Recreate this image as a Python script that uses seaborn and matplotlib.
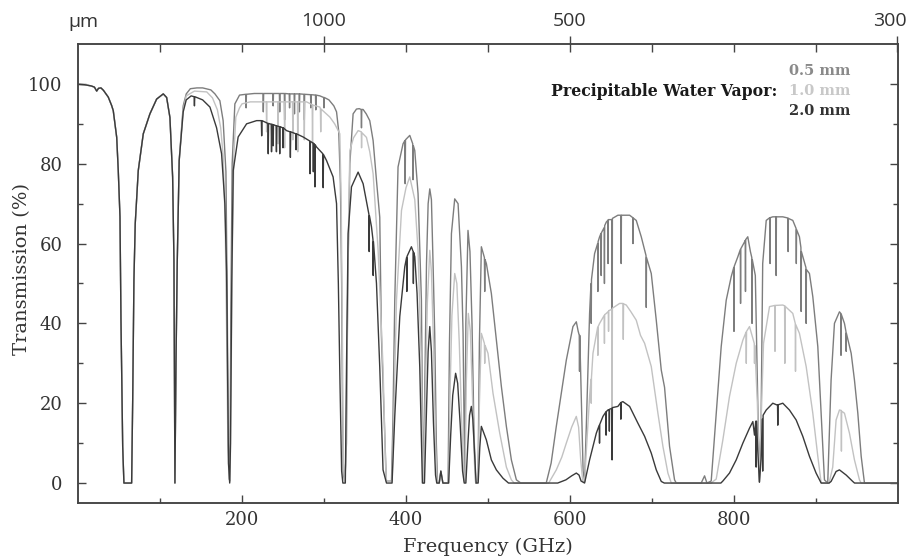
import matplotlib
matplotlib.use("Agg")
import matplotlib.pyplot as plt
from matplotlib.ticker import FixedLocator, FixedFormatter
from matplotlib.transforms import ScaledTranslation
import seaborn as sns
import pandas as pd

# --- data (frequency GHz, transmission %) ---

# below ~125 GHz the three curves lie on top of each other
shared_low = [
    (1, 99.9), (8, 99.8), (16, 99.5), (20, 99.2), (22.8, 98.2), (25, 98.9), (28, 99.0),
    (31, 98.4), (36.9, 96.7), (41, 94.6), (43, 93.3), (47.2, 86.6), (49.1, 78.3),
    (51.2, 66.7), (52.4, 40.8), (54.5, 9.2), (56, 0), (65.4, 0), (66.7, 20.8),
    (68.2, 50.8), (69.8, 65), (73.5, 78.3), (79.6, 87.5), (87.7, 92.5), (95.9, 96.2),
    (104, 97.5), (108.1, 96.6), (112.1, 91.6), (115.4, 76.7), (117, 55.8), (118.2, 0),
    (119.5, 30), (121, 55), (123.4, 80.8),
]

pwv_05 = [
    (128.3, 94.5), (132, 97.5), (137, 98.8), (145, 99.0), (152, 99.0), (162, 98.5),
    (167, 97.5), (173, 95.8), (177, 90.8), (180.4, 78), (182, 45), (183.3, 10),
    (184.5, 1), (185.5, 10), (186.5, 45), (188, 80), (191.3, 95), (197, 97.2),
    (204.6, 97.4), (205, 94.0), (205.4, 97.4), (215, 97.6), (225.6, 97.6), (226, 93.0),
    (226.4, 97.6), (237.6, 97.6), (238, 94.5), (238.4, 97.6), (245.6, 97.6), (246, 93.0),
    (246.4, 97.6), (251.6, 97.6), (252, 91.0), (252.4, 97.6), (257.6, 97.5), (258, 94.0),
    (258.4, 97.5), (263.6, 97.5), (264, 92.5), (264.4, 97.5), (269.6, 97.5), (270, 93.0),
    (270.4, 97.5), (275.6, 97.4), (276, 91.0), (276.4, 97.4), (283.6, 97.3), (284, 94.0),
    (284.4, 97.3), (289.6, 97.2), (290, 93.5), (290.4, 97.2), (295, 97.0), (299.6, 96.6),
    (300, 94.0), (300.4, 96.6), (306, 96.0), (312, 94.5), (315.3, 93.0), (318, 88),
    (320, 75), (321.5, 50), (322.5, 20), (323.5, 2), (325.5, 0.5), (327.4, 10), (329, 50),
    (331.5, 80), (335.5, 92.5), (339.6, 93.7), (343, 93.8), (345.3, 93.6), (345.7, 89),
    (346.1, 93.6), (347.7, 93.6), (351.5, 92.5), (355.8, 90.8), (359.9, 85.8), (364, 75.8),
    (368, 66.6), (370, 37), (374.1, 12.5), (376, 0.5), (382.3, 0.5), (384, 15),
    (386.3, 45.8), (390.3, 79.2), (396.4, 85), (398.6, 85.8), (399, 75), (399.4, 86),
    (404.6, 87.1), (408.2, 85), (408.6, 76), (409, 84.5), (410.7, 83.3), (414.7, 72.5),
    (418.8, 45.8), (420.8, 0.5), (421.5, 0), (423, 25), (425, 55), (427, 70), (429, 73.7),
    (431, 71), (433, 55), (435, 37.5), (437, 10), (438.5, 0), (440.5, 0), (442.5, 3),
    (445, 0), (451.3, 0), (453, 35), (455.4, 62.5), (459.4, 71.2), (463.5, 70),
    (467.6, 54.2), (469.6, 37.5), (471.6, 0.5), (473, 40), (475.6, 63.3), (478, 58),
    (480.5, 40), (483, 12), (485, 0), (487.8, 0.5), (489.5, 35), (491.9, 59.2),
    (495.6, 56.5), (496, 48), (496.4, 56), (498, 55), (504.1, 47.5), (510.2, 35.8),
    (516.3, 24.2), (522.4, 14.2), (528.5, 5.8), (534.6, 0.8), (540, 0), (571, 0),
    (577, 5), (583.3, 14.2), (589, 22), (595.5, 30.8), (603.6, 39.2), (607.7, 40.4),
    (610, 38), (611.3, 37), (611.6, 28), (611.9, 37), (614, 20), (616, 3), (617.8, 0.5),
    (620, 15), (623.9, 42.5), (625.6, 50), (625.9, 40), (626.2, 51), (630, 57.5),
    (633.7, 60), (634, 48), (634.3, 60.5), (636.1, 61.7), (637.7, 62.5), (638, 52),
    (638.3, 62.7), (641.7, 64), (642, 50), (642.3, 64.5), (644.3, 65.4), (646.1, 65.8),
    (646.4, 55), (646.7, 66), (650.9, 66), (651.3, 8), (651.7, 66.3), (658.4, 67.1),
    (662.1, 67.1), (662.4, 55), (662.7, 67.1), (672.7, 67.1), (676.5, 66.5), (676.8, 60),
    (677.1, 66.4), (680.8, 65.8), (686.9, 61.7), (691, 58.3), (692.7, 57), (693, 44),
    (693.3, 56.5), (699.1, 52.5), (705.2, 40.8), (711.3, 28.3), (715.3, 24), (721.4, 9.2),
    (727.5, 0.8), (729.6, 0), (760, 0), (764.1, 1.8), (767, 0), (772.2, 0.5),
    (778.3, 17.5), (784.4, 34.2), (790.5, 45.8), (796.6, 51.7), (799.7, 54), (800, 38),
    (800.3, 54.3), (804.7, 56.7), (807.7, 58.5), (808, 45), (808.3, 58.7), (812.8, 60.4),
    (813.7, 60.8), (814, 48), (814.3, 61), (816.8, 61.7), (820, 58), (821.7, 56.5),
    (822, 40), (822.3, 56), (826, 52), (829, 20), (831, 0.3), (833, 15), (835, 55),
    (839.3, 65.8), (843.7, 66.5), (844, 55), (844.3, 66.5), (847.3, 66.7), (851.1, 66.7),
    (851.4, 52), (851.7, 66.7), (859.5, 66.7), (865.7, 66.4), (866, 58), (866.3, 66.3),
    (871.7, 65.8), (875.7, 63.8), (876, 55), (876.3, 63.5), (879.8, 61.7), (881.6, 59),
    (881.9, 43), (882.2, 58), (887.7, 54), (888, 40), (888.3, 53.5), (892, 52.5),
    (896.1, 46.7), (902.2, 34.2), (906.3, 17.5), (910.3, 0.8), (914.3, 0), (918.4, 25.8),
    (922.5, 40), (928.6, 42.9), (930.2, 42.5), (930.5, 32), (930.8, 42.3), (934.7, 40),
    (936.5, 38), (936.8, 33), (937.1, 37.5), (942.9, 32.5), (946.9, 25.8), (951, 17.5),
    (955.1, 6.7), (959.1, 0), (999.5, 0),
]

pwv_10 = [
    (128.3, 93.5), (132, 97), (142, 98.2), (157, 98), (164, 96.5), (170, 93.5), (174, 89),
    (177, 82), (179.5, 65), (181, 42), (182.5, 15), (184, 1), (185.5, 0.5), (186.5, 20),
    (188, 55), (190, 82), (192.5, 91.7), (197, 94), (200, 95), (210, 95.5),
    (229.6, 95.5), (230, 88), (230.4, 95.5), (243.6, 95.5), (244, 85), (244.4, 95.5),
    (251.6, 95.5), (252, 84), (252.4, 95.5), (261.6, 95.5), (262, 86), (262.4, 95.5),
    (267.6, 95.5), (268, 83), (268.4, 95.5), (275.6, 95.5), (276, 86), (276.4, 95.5),
    (278.7, 95.5), (285.6, 94.8), (286, 85), (286.4, 94.7), (294.9, 94.2), (295.6, 93.8),
    (296, 88), (296.4, 93.7), (307.1, 91.7), (313, 90), (319.3, 87.5), (321, 70),
    (322.5, 35), (323.5, 5), (325, 0.5), (326.5, 5), (328, 30), (330, 65), (331.5, 83.3),
    (336, 86.5), (341.6, 88.3), (345.5, 88), (345.8, 84), (346.1, 87.8), (351.8, 86.6),
    (355.8, 83), (359.9, 77.5), (366, 58.3), (372, 29), (375, 5), (376.2, 0.5),
    (383, 0.5), (385, 15), (388.4, 45.8), (394.5, 68.3), (400, 74), (404.6, 76.7),
    (410.7, 71), (414.7, 58.3), (418.8, 29), (420.8, 0.5), (421.5, 0), (423.5, 20),
    (426, 45), (429, 58.3), (431, 53), (433.5, 35), (436, 10), (438, 0), (440.5, 0),
    (442.5, 2.5), (445, 0), (452, 0), (454, 25), (456, 42), (459.4, 52.5), (462, 50),
    (465, 35), (468, 15), (470.5, 0.5), (472, 0.5), (473.5, 25), (476, 42.5),
    (478.5, 38), (481, 22), (483.5, 5), (485, 0), (488, 0.5), (489.5, 20), (491.9, 37.5),
    (495.6, 35), (496, 30), (496.4, 34.5), (500, 32.5), (506.1, 22.5), (514.3, 12.5),
    (522.4, 4), (528.5, 0.8), (532, 0), (574, 0), (583.3, 3.3), (590, 6.5), (595.5, 10),
    (602, 14), (607.7, 16.7), (610.5, 14), (613, 6), (615.5, 0.5), (617.8, 0.3),
    (619.9, 8), (624, 22), (625.6, 26), (625.9, 20), (626.2, 26.5), (628, 32.5),
    (633.7, 39), (634, 32), (634.3, 39.2), (636.1, 40), (641.7, 42), (642, 35),
    (642.3, 42.2), (644.3, 42.5), (646.7, 43), (647, 38), (647.3, 43.2), (650.9, 43.5),
    (651.3, 8), (651.7, 43.8), (660.5, 45), (664.7, 45), (665, 36), (665.3, 44.9),
    (668.6, 44.6), (674, 43), (680.8, 40.8), (686, 37), (691, 35), (699.1, 29.2),
    (707.2, 17.5), (713.3, 9.2), (719.4, 2.5), (723.5, 0), (772, 0), (778.3, 1),
    (786.4, 10.8), (794.5, 21.7), (802.7, 30), (810.8, 35.8), (814.7, 37.8), (815, 30),
    (815.3, 38), (818.9, 39.2), (822, 37), (824.7, 35), (825, 30), (825.3, 34.5),
    (828.5, 20), (831, 0.3), (833, 15), (836, 35), (843.3, 44.2), (849.7, 44.5),
    (850, 33), (850.3, 44.5), (859.5, 44.6), (861.7, 44.4), (862, 30), (862.3, 44.3),
    (871.7, 42.5), (874.7, 40), (875, 28), (875.3, 39.7), (879.8, 37.5), (888, 29.2),
    (896.1, 17.5), (902.2, 6.7), (906.3, 0), (916, 0), (920.4, 4), (924.5, 15.8),
    (928.6, 18.3), (930.7, 18.2), (931, 8), (931.3, 18), (934.7, 17.5), (940.8, 12.5),
    (946.9, 5.8), (953, 0.8), (955, 0), (999.5, 0),
]

pwv_20 = [
    (128.3, 93), (132, 96), (138, 97), (141.6, 96.8), (142, 94.5), (142.4, 96.8),
    (152, 96), (160.9, 94.2), (169, 89), (175.1, 82.5), (179.1, 70), (181.2, 53),
    (182.5, 25), (183.5, 5), (185, 0), (186, 10), (187.5, 50), (189.3, 78.3),
    (195.3, 86.7), (205.6, 90), (217.8, 90.8), (223.6, 90.8), (224, 87), (224.4, 90.8),
    (231.6, 90.1), (232, 82.5), (232.4, 90.1), (234, 90), (235.6, 89.9), (236, 83),
    (236.4, 89.9), (237.6, 89.8), (238, 84.5), (238.4, 89.8), (241.6, 89.5), (242, 83),
    (242.4, 89.5), (245.6, 89.3), (246, 82.5), (246.4, 89.3), (249.6, 89), (250, 84),
    (250.4, 89), (254.3, 88.3), (258.6, 88), (259, 81.6), (259.4, 88), (265.6, 87.5),
    (266, 83.5), (266.4, 87.5), (274.6, 86.7), (282.6, 85.7), (283, 77.5), (283.4, 85.6),
    (286.6, 85.2), (287, 78), (287.4, 85.1), (288.6, 84.8), (289, 74.2), (289.4, 84.7),
    (290.9, 84.2), (298.6, 82.5), (299, 74), (299.4, 82.3), (303.1, 80.8), (311.1, 76.7),
    (315.3, 70), (317.5, 50), (319.5, 25), (321.5, 3), (323, 0), (326, 0), (327.5, 30),
    (329.4, 62.5), (333.5, 74.2), (341.6, 77.9), (347.7, 75), (353.8, 68.3),
    (354.8, 67.3), (355.1, 58), (355.4, 67), (357.9, 64.2), (359.7, 61), (360, 52),
    (360.3, 60.5), (364, 50), (368, 29), (372, 3.3), (376.2, 0), (383, 0), (386.3, 16.7),
    (392.4, 41.7), (398.5, 54.2), (400.7, 56.5), (401, 48), (401.3, 56.8), (406.6, 59.2),
    (408.7, 58), (409, 50), (409.3, 57.8), (410.7, 56.7), (413.5, 47.5), (416.8, 29),
    (420, 0), (422.5, 0), (425, 18), (427, 33), (429, 39.2), (431, 33), (433.5, 15),
    (436, 2), (437.5, 0), (440.5, 0), (442.5, 3), (445, 0), (452, 0), (454.5, 12),
    (457, 22), (460.5, 27.5), (463, 25), (466, 15), (469, 3), (471, 0), (473, 0),
    (475.5, 10), (477.5, 17), (479.7, 19.2), (481.5, 16), (483.5, 8), (485.5, 0),
    (488, 0), (490, 9), (491.9, 14.2), (498, 10.8), (504.1, 5.8), (510.2, 3.3),
    (518.3, 1.2), (525, 0), (585, 0), (595, 0.8), (602, 1.8), (607.7, 2.5), (611, 2),
    (613.5, 0.5), (617.8, 0), (623.9, 5.8), (632.1, 12.5), (635.7, 14.5), (636, 10),
    (636.3, 14.7), (640.2, 16.7), (643.7, 17.8), (644, 12), (644.3, 17.9), (646.2, 18.3),
    (647.7, 18.4), (648, 13), (648.3, 18.5), (650.9, 18.7), (651.3, 5.8), (651.7, 18.9),
    (658.4, 19.2), (661.7, 20.1), (662, 16), (662.3, 20.2), (664.5, 20.4), (672.7, 19.2),
    (682.8, 15), (691, 11.7), (699.1, 7.5), (705.2, 3.3), (711.3, 0.4), (715, 0),
    (784, 0), (786.4, 0.5), (794.5, 2.5), (802.7, 5.8), (810.8, 10), (818.9, 13.75),
    (823, 15.4), (825, 12), (826.5, 15.5), (827, 4), (827.5, 15.5), (829, 8), (831, 0.2),
    (833, 6), (834.5, 16), (835, 3), (835.5, 17), (839.3, 18.3), (847.3, 20),
    (853.1, 19.5), (853.4, 14.5), (853.7, 19.6), (859.5, 20), (867.6, 18.3),
    (875.8, 15.8), (883.9, 11.7), (892, 6.7), (900.1, 2.5), (906.3, 0), (916, 0),
    (918.4, 0.4), (924.5, 2.9), (928.6, 3.3), (936.8, 2), (944.8, 0.4), (947, 0),
    (999.5, 0),
]

pwv_labels = ["0.5 mm", "1.0 mm", "2.0 mm"]
pwv_colors = {"0.5 mm": "#7d7d7d", "1.0 mm": "#c2c2c2", "2.0 mm": "#3a3a3a"}
label_colors = ["#8a8a8a", "#c8c8c8", "#333333"]

# top axis: wavelength in micron, placed at c / lambda
top_um = [1000, 500, 300]
top_ghz = [299792.458 / u for u in top_um]

# --- build long-form table ---
rows = []
for name, pts in zip(pwv_labels, [pwv_05, pwv_10, pwv_20]):
    for f, t in shared_low + pts:
        rows.append((f, t, name))
df = pd.DataFrame(rows, columns=["freq", "trans", "pwv"])

sns.set_style("ticks")
plt.rcParams["font.family"] = ["DejaVu Serif"]
ink = "#333333"

fig = plt.figure(figsize=(9.09, 5.59), dpi=100)
ax = fig.add_axes([78 / 909, 1 - 503 / 559, 820 / 909, 459 / 559])

sns.lineplot(data=df, x="freq", y="trans", hue="pwv", hue_order=pwv_labels,
             palette=pwv_colors, estimator=None, sort=False, legend=False,
             linewidth=1.0, ax=ax)

ax.set_xlim(0, 1000)
ax.set_ylim(-5, 110)
ax.xaxis.set_major_locator(FixedLocator([200, 400, 600, 800]))
ax.xaxis.set_minor_locator(FixedLocator([100, 300, 500, 700, 900]))
ax.yaxis.set_major_locator(FixedLocator([0, 20, 40, 60, 80, 100]))
ax.yaxis.set_minor_locator(FixedLocator([10, 30, 50, 70, 90]))
ax.tick_params(which="both", direction="in", top=False, right=True,
               color="#444444", width=1, labelsize=13, labelcolor=ink)
ax.tick_params(which="major", length=6)
ax.tick_params(which="minor", length=3.5)
ax.tick_params(axis="y", pad=11)
ax.tick_params(axis="x", pad=6)

ax.set_xlabel("Frequency (GHz)", fontsize=14, color=ink)
ax.set_ylabel("Transmission (%)", fontsize=14, color=ink)
ax.xaxis.set_label_coords(0.5, -0.076)
ax.yaxis.set_label_coords(-0.057, 0.51)

ax_top = ax.twiny()
ax_top.set_xlim(ax.get_xlim())
ax_top.xaxis.set_major_locator(FixedLocator(top_ghz))
ax_top.xaxis.set_major_formatter(FixedFormatter([str(u) for u in top_um]))
ax_top.xaxis.set_minor_locator(FixedLocator([100, 200, 400, 500, 700, 800, 900]))
ax_top.tick_params(axis="x", which="major", direction="inout", length=12, width=1,
                   color="#444444", pad=4, labelsize=14, labelcolor=ink)
ax_top.tick_params(axis="x", which="minor", direction="in", length=6, width=1,
                   color="#444444")
for lab in ax_top.get_xticklabels():
    lab.set_fontfamily("Open Sans")
# the 300 label sits at the right edge; nudge it a little to the left
last = ax_top.xaxis.get_major_ticks()[-1].label2
last.set_transform(last.get_transform() + ScaledTranslation(-8 / 100, 0, fig.dpi_scale_trans))

for a in (ax, ax_top):
    for sp in a.spines.values():
        sp.set_color("#444444")
        sp.set_linewidth(1.1)

fig.text(83 / 909, 1 - 27 / 559, "µm", ha="center", va="baseline",
         fontsize=14, color=ink, family="Open Sans")

# legend block
fig.text(777 / 909, 1 - 92 / 559, "Precipitable Water Vapor:", ha="right", va="center",
         fontsize=11.3, fontweight="bold", color="#1a1a1a")
for i, (name, col) in enumerate(zip(pwv_labels, label_colors)):
    fig.text(850 / 909, 1 - (71 + 20 * i) / 559, name, ha="right", va="center",
             fontsize=10.5, fontweight="bold", color=col)

fig.savefig("out.png", dpi=100)
